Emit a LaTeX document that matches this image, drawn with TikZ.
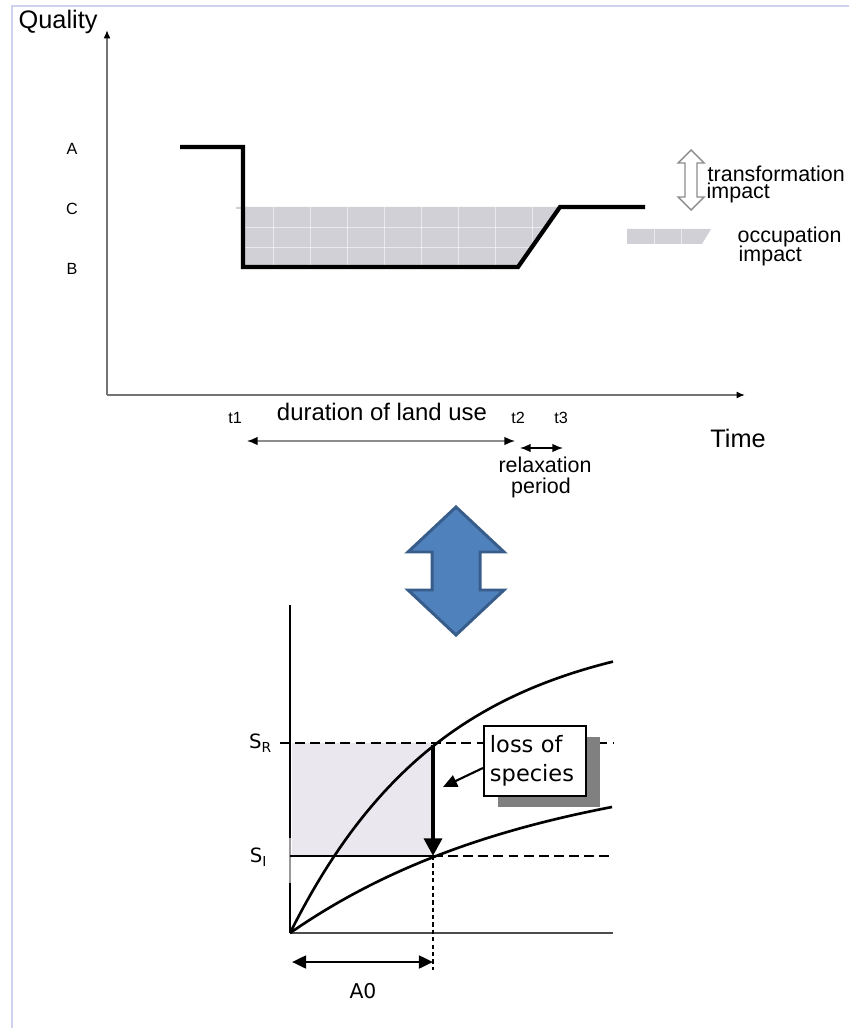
\documentclass[tikz,border=0pt]{standalone}
\usepackage{fontspec}
\setmainfont{Liberation Sans}
\newfontfamily\sppfont{DejaVu Sans}
\usepackage{xcolor}
\usetikzlibrary{positioning,arrows.meta,shadows}
\definecolor{frameLine}{RGB}{206,210,238}
\definecolor{occGray}{RGB}{210,208,215}
\definecolor{lossGray}{RGB}{234,232,238}
\definecolor{boxShadow}{RGB}{128,128,128}
\definecolor{bigBlue}{RGB}{79,129,189}
\definecolor{bigBlueEdge}{RGB}{56,93,138}
\tikzset{
  axisline/.style={black!55, line width=0.45pt},
  axistip/.style={-{Latex[length=2.4pt,width=2pt,color=black]}},
  landline/.style={black, line width=1.2pt},
  gridline/.style={white, line width=0.2pt, opacity=0.55},
  lvl/.style={font=\fontsize{4.6}{5}\selectfont, inner sep=0pt, anchor=base},
  note/.style={font=\fontsize{6.1}{7}\selectfont, inner sep=0pt, anchor=base west},
  biglbl/.style={font=\fontsize{7.2}{8}\selectfont, inner sep=0pt},
  sarline/.style={black, line width=0.75pt},
  guide/.style={line width=0.55pt, dash pattern=on 2.8pt off 1.5pt},
  sppbox/.style={draw, line width=0.6pt, fill=white, font=\sppfont\fontsize{6.4}{8.2}\selectfont,
    text width=0.9cm, align=left, inner xsep=0.06cm, inner ysep=0.08cm,
    minimum height=0.70cm,
    general shadow={fill=boxShadow, shadow xshift=0.14cm, shadow yshift=-0.11cm}},
}

\begin{document}
\begin{tikzpicture}[x=0.01cm, y=-0.01cm]
  \useasboundingbox (0,0) rectangle (849,1028);
  \draw[frameLine, line width=0.5pt] (12,1028) -- (12,6) -- (849,6);

  % ---- quality over time ----
  \coordinate (qO) at (107,395);
  \coordinate (qTop) at (107,30);
  \coordinate (qRight) at (745,395);
  \draw[axisline, axistip] (qO) -- (qTop);
  \draw[axisline, axistip] (qO) -- (qRight);
  \node[biglbl, anchor=base west] (qualLbl) at (18,29) {Quality};
  \node[biglbl, anchor=base] (timeLbl) at (738,448) {Time};
  \node[lvl] (lvlA) at (72,155) {A};
  \node[lvl] (lvlC) at (72,215) {C};
  \node[lvl] (lvlB) at (72,275) {B};

  % occupation area, grey with faint grid
  \begin{scope}
    \clip (236,207) -- (560,207) -- (518,267) -- (243,267) -- (243,209) -- (236,209) -- cycle;
    \fill[occGray] (236,200) rectangle (565,270);
    \foreach \gx in {273,310,...,560}{
      \draw[gridline] (\gx,200) -- (\gx,270);
    }
    \foreach \gy in {227,247}{
      \draw[gridline] (236,\gy) -- (565,\gy);
    }
  \end{scope}
  \draw[landline] (180,147) -- (243,147) -- (243,267) -- (518,267) -- (560,207) -- (645,207);

  % legend
  \draw[black!45, fill=white, line width=0.4pt]
    (691,150) -- (704,163) -- (697,163) -- (697,197) -- (704,197) -- (691,210)
    -- (678,197) -- (685,197) -- (685,163) -- (678,163) -- cycle;
  \node[note] (trfLbl) at (707,182) {transformation};
  \node[note] (trfImp) at (706,199) {impact};
  \begin{scope}
    \clip (627,229) -- (711,229) -- (702,244) -- (627,244) -- cycle;
    \fill[occGray] (620,225) rectangle (715,248);
    \foreach \gx in {654,681}{
      \draw[gridline] (\gx,225) -- (\gx,248);
    }
  \end{scope}
  \node[note] (occLbl) at (737,243) {occupation};
  \node[note] (occImp) at (738,262) {impact};

  % time marks
  \node[lvl] (tOne) at (235,423) {t1};
  \node[lvl] (tTwo) at (518,423) {t2};
  \node[lvl] (tThree) at (561,423) {t3};
  \node[note, font=\fontsize{6.8}{8}\selectfont, anchor=base] (durLbl) at (382,421) {duration of land use};
  \coordinate (durL) at (247,441);
  \coordinate (durR) at (515,441);
  \draw[black!45, line width=0.4pt, {Latex[length=3pt,width=2.4pt,color=black]}-{Latex[length=3pt,width=2.4pt,color=black]}] (durL) -- (durR);
  \coordinate (relL) at (520,448);
  \coordinate (relR) at (563,448);
  \draw[black, line width=0.4pt, {Latex[length=3pt,width=2.4pt]}-{Latex[length=3pt,width=2.4pt]}] (relL) -- (relR);
  \node[note, anchor=base] (relaxLbl) at (545,472) {relaxation};
  \node[note, anchor=base] (periodLbl) at (541,493) {period};

  % ---- big double arrow ----
  \draw[fill=bigBlue, draw=bigBlueEdge, line width=0.85pt, line join=miter]
    (456,507) -- (504,552) -- (480,552) -- (480,590) -- (504,590) -- (456,635)
    -- (408,590) -- (432,590) -- (432,552) -- (408,552) -- cycle;

  % ---- species-area curves ----
  \coordinate (sO) at (290,933);
  \coordinate (sr) at (433,743);
  \coordinate (si) at (433,856);
  \fill[lossGray] (292,743) rectangle (si);
  \draw[black, line width=0.6pt] (290,605) -- (290,838);
  \draw[black!40, line width=0.6pt] (290,838) -- (290,883);
  \draw[black, line width=0.6pt] (290,883) -- (sO);
  \draw[black!70, line width=0.7pt] (sO) -- (613,933);
  \draw[guide] (280,743) -- (613,743);
  \draw[black, line width=0.6pt] (290,856) -- (si);
  \draw[guide] (si) -- (613,856);
  \draw[line width=0.55pt, dash pattern=on 1.2pt off 0.9pt] (si) -- (433,970);
  \draw[sarline] plot[domain=0:323, samples=60] ({290+\x},{933-310*(1-exp(-\x/155))});
  \draw[sarline] plot[domain=0:322, samples=60] ({290+\x},{933-174*(1-exp(-\x/250))});
  \draw[line width=1.4pt, -{Triangle[length=5pt,width=5pt]}] ([yshift=-0.02cm]sr) -- (si);

  \node[font=\sppfont\fontsize{5.6}{6}\selectfont, inner sep=0pt] (srLbl) at (261,743) {S\textsubscript{R}};
  \node[font=\sppfont\fontsize{5.6}{6}\selectfont, inner sep=0pt] (siLbl) at (259,857) {S\textsubscript{I}};

  \node[sppbox] (lossBox) at (535,761) {loss of\\species};
  \coordinate (lossTip) at (443,787);
  \draw[line width=0.6pt, -{Triangle[length=4pt,width=3.5pt]}] ([yshift=-0.07cm]lossBox.west) -- (lossTip);

  \coordinate (aL) at (292,962);
  \coordinate (aR) at (433,962);
  \draw[line width=0.8pt, {Triangle[length=4pt,width=3.6pt]}-{Triangle[length=4pt,width=3.6pt]}] (aL) -- (aR);
  \node[font=\sppfont\fontsize{5.8}{6}\selectfont, inner sep=0pt, anchor=base] (aZeroLbl) at (363,998) {A0};
\end{tikzpicture}
\end{document}
